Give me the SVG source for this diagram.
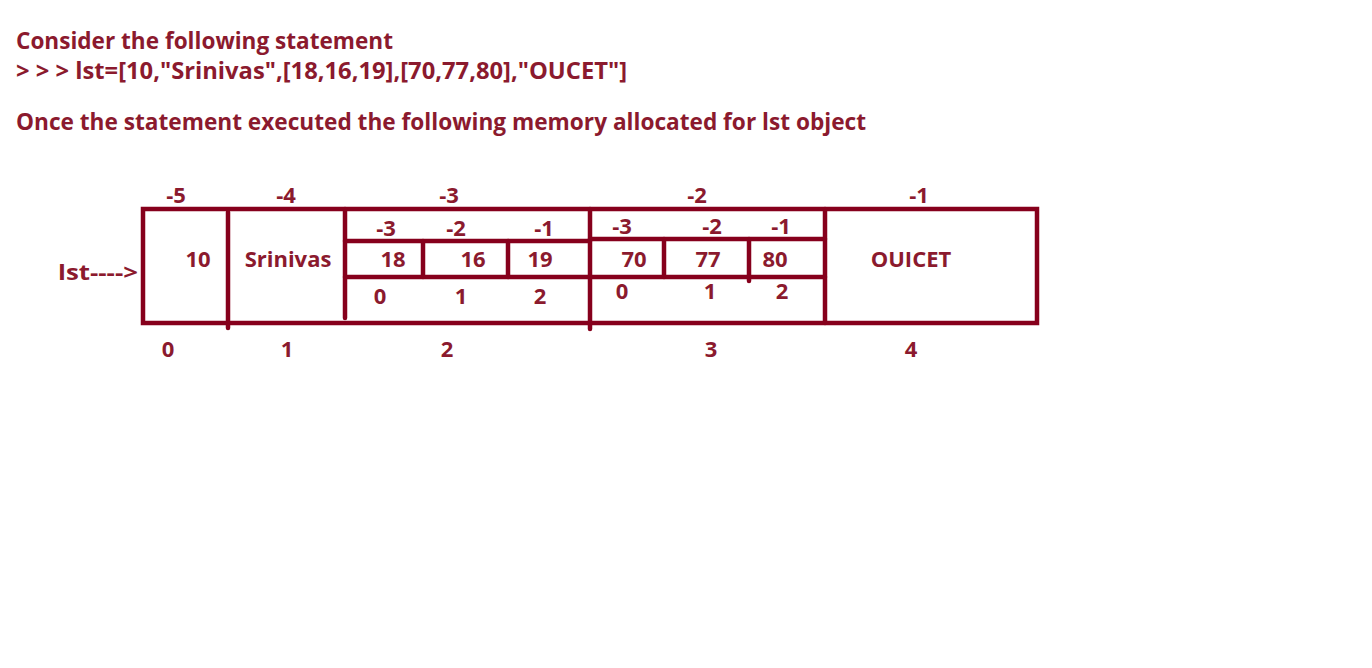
<svg xmlns="http://www.w3.org/2000/svg" width="1372" height="668" viewBox="0 0 1372 668">
<style>
.t{font-family:"Open Sans","Noto Sans","Liberation Sans",sans-serif;font-weight:bold;fill:#8b1a2e;font-size:22px}
.h{font-size:23px}
.c{text-anchor:middle}
.l{stroke:#86001c;stroke-width:4.5;fill:none;stroke-linecap:round}
</style>
<rect width="1372" height="668" fill="#fff"/>
<g id="header">
<text class="t h" x="16" y="49" textLength="377" lengthAdjust="spacingAndGlyphs">Consider the following statement</text>
<text class="t h" x="16" y="79" textLength="611" lengthAdjust="spacingAndGlyphs">&gt; &gt; &gt; lst=[10,"Srinivas",[18,16,19],[70,77,80],"OUCET"]</text>
<text class="t h" x="16" y="130" textLength="850" lengthAdjust="spacingAndGlyphs">Once the statement executed the following memory allocated for lst object</text>
</g>
<g id="pointer"><text class="t" x="58" y="280" textLength="80" lengthAdjust="spacingAndGlyphs">lst----&gt;</text></g>
<g id="connectors">
<rect class="l" x="143" y="209" width="894" height="114" style="stroke-linecap:butt"/>
<line class="l" x1="228" y1="212" x2="228" y2="328"/>
<line class="l" x1="345" y1="209" x2="345" y2="318"/>
<line class="l" x1="590" y1="209" x2="590" y2="329"/>
<line class="l" x1="825" y1="209" x2="825" y2="323"/>
<line class="l" x1="345" y1="241" x2="590" y2="241"/>
<line class="l" x1="345" y1="277" x2="590" y2="277"/>
<line class="l" x1="423" y1="241" x2="423" y2="277"/>
<line class="l" x1="508" y1="241" x2="508" y2="277"/>
<line class="l" x1="590" y1="239" x2="825" y2="239"/>
<line class="l" x1="590" y1="277" x2="825" y2="277"/>
<line class="l" x1="664" y1="239" x2="664" y2="277"/>
<line class="l" x1="749" y1="239" x2="749" y2="281"/>
</g>
<g id="item0">
<text class="t c" x="176" y="203">-5</text>
<text class="t c" x="198" y="267">10</text>
<text class="t c" x="168" y="357">0</text>
</g>
<g id="item1">
<text class="t c" x="286" y="203">-4</text>
<text class="t c" x="288" y="267">Srinivas</text>
<text class="t c" x="287" y="357">1</text>
</g>
<g id="item2">
<text class="t c" x="449" y="203">-3</text>
<text class="t c" x="386" y="236">-3</text>
<text class="t c" x="456" y="236">-2</text>
<text class="t c" x="544" y="236">-1</text>
<text class="t c" x="393" y="267">18</text>
<text class="t c" x="473" y="267">16</text>
<text class="t c" x="540" y="267">19</text>
<text class="t c" x="380" y="304">0</text>
<text class="t c" x="461" y="304">1</text>
<text class="t c" x="540" y="304">2</text>
<text class="t c" x="447" y="357">2</text>
</g>
<g id="item3">
<text class="t c" x="697" y="203">-2</text>
<text class="t c" x="622" y="234">-3</text>
<text class="t c" x="712" y="234">-2</text>
<text class="t c" x="781" y="234">-1</text>
<text class="t c" x="634" y="267">70</text>
<text class="t c" x="708" y="267">77</text>
<text class="t c" x="775" y="267">80</text>
<text class="t c" x="622" y="299">0</text>
<text class="t c" x="710" y="299">1</text>
<text class="t c" x="782" y="299">2</text>
<text class="t c" x="711" y="357">3</text>
</g>
<g id="item4">
<text class="t c" x="919" y="203">-1</text>
<text class="t c" x="911" y="267">OUICET</text>
<text class="t c" x="911" y="357">4</text>
</g>
</svg>
